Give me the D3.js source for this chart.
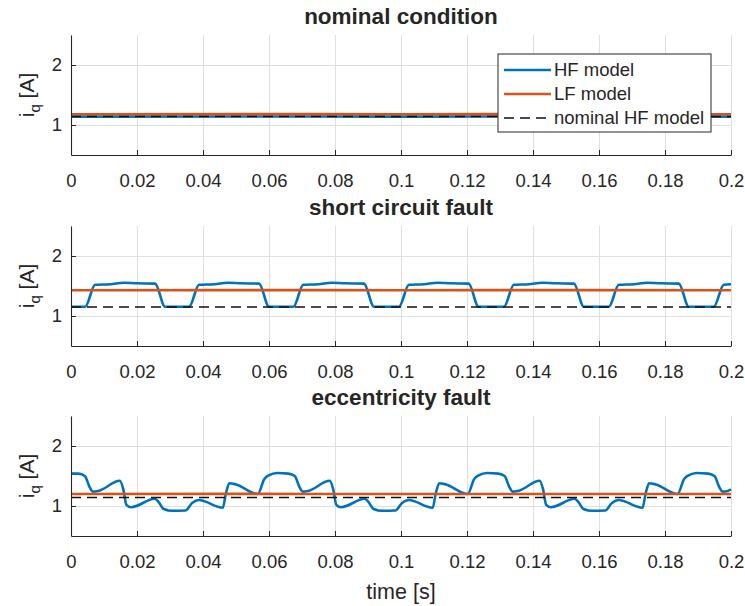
<!DOCTYPE html>
<html>
<head>
<meta charset="utf-8">
<script src="https://cdn.jsdelivr.net/npm/d3@7"></script>
<style>
  body { margin: 0; background: #fff; }
  text { font-family: "Liberation Sans", Arial, sans-serif; fill: #262626; }
</style>
</head>
<body>
<div id="my_dataviz"></div>
<script>
// time axis ticks
var timeTicks = [0, 0.02, 0.04, 0.06, 0.08, 0.1, 0.12, 0.14, 0.16, 0.18, 0.2];
var timeLabels = ["0", "0.02", "0.04", "0.06", "0.08", "0.1", "0.12", "0.14", "0.16", "0.18", "0.2"];
var currentTicks = [1, 2];

// nominal condition [t, iq]
var nominalHF = [[0, 1.14], [0.05, 1.142], [0.1, 1.14], [0.15, 1.141], [0.2, 1.14]];
var nominalLF = [[0, 1.18], [0.05, 1.182], [0.1, 1.18], [0.15, 1.181], [0.2, 1.18]];
var nominalRef = [[0, 1.14], [0.2, 1.14]];

// short circuit fault
var shortHF = [
  [0, 1.155], [0.0043, 1.155], [0.0073, 1.52], [0.012, 1.53], [0.016, 1.555], [0.02, 1.545], [0.0255, 1.54],
  [0.0285, 1.155], [0.0358, 1.155], [0.0388, 1.52], [0.0435, 1.53], [0.0475, 1.555], [0.0515, 1.545], [0.057, 1.54],
  [0.06, 1.155], [0.0674, 1.155], [0.0704, 1.52], [0.075, 1.53], [0.079, 1.555], [0.083, 1.545], [0.0888, 1.54],
  [0.0918, 1.155], [0.0994, 1.155], [0.1024, 1.52], [0.107, 1.53], [0.111, 1.555], [0.115, 1.545], [0.1205, 1.54],
  [0.1235, 1.155], [0.1312, 1.155], [0.1342, 1.52], [0.1388, 1.53], [0.1428, 1.555], [0.1468, 1.545], [0.1524, 1.54],
  [0.1554, 1.155], [0.163, 1.155], [0.166, 1.52], [0.1706, 1.53], [0.1746, 1.555], [0.1786, 1.545], [0.1842, 1.54],
  [0.1872, 1.155], [0.1948, 1.155], [0.1978, 1.52], [0.2, 1.53]
];
var shortLF = [[0, 1.43], [0.05, 1.432], [0.1, 1.43], [0.15, 1.431], [0.2, 1.43]];
var shortRef = [[0, 1.15], [0.2, 1.15]];

// eccentricity fault
var eccHF = [
  [0, 1.54], [0.0023, 1.54], [0.0042, 1.5], [0.0056, 1.32], [0.0066, 1.24], [0.0082, 1.25], [0.0148, 1.42],
  [0.0158, 1.29], [0.0168, 1.02], [0.0182, 0.98], [0.0254, 1.12], [0.0265, 1.07], [0.0281, 0.95], [0.0307, 0.92],
  [0.0347, 0.925], [0.0367, 1.05], [0.0387, 1.1], [0.046, 0.97], [0.0469, 1.2], [0.048, 1.38], [0.05, 1.36],
  [0.0566, 1.2], [0.0586, 1.45], [0.0599, 1.51], [0.0625, 1.55], [0.0659, 1.54], [0.0678, 1.5], [0.0692, 1.32],
  [0.0702, 1.24], [0.0718, 1.25], [0.0784, 1.42], [0.0794, 1.29], [0.0804, 1.02], [0.0818, 0.98], [0.089, 1.12],
  [0.0901, 1.07], [0.0917, 0.95], [0.0943, 0.92], [0.0983, 0.925], [0.1003, 1.05], [0.1023, 1.1], [0.1096, 0.97],
  [0.1105, 1.2], [0.1116, 1.38], [0.1136, 1.36], [0.1202, 1.2], [0.1222, 1.45], [0.1235, 1.51], [0.1261, 1.55],
  [0.1295, 1.54], [0.1314, 1.5], [0.1328, 1.32], [0.1338, 1.24], [0.1354, 1.25], [0.142, 1.42], [0.143, 1.29],
  [0.144, 1.02], [0.1454, 0.98], [0.1526, 1.12], [0.1537, 1.07], [0.1553, 0.95], [0.1579, 0.92], [0.1619, 0.925],
  [0.1639, 1.05], [0.1659, 1.1], [0.1732, 0.97], [0.1741, 1.2], [0.1752, 1.38], [0.1772, 1.36], [0.1838, 1.2],
  [0.1858, 1.45], [0.1871, 1.51], [0.1897, 1.55], [0.1931, 1.54], [0.195, 1.5], [0.1964, 1.32], [0.1974, 1.24],
  [0.199, 1.25], [0.2, 1.28]
];
var eccLF = [[0, 1.2], [0.05, 1.202], [0.1, 1.2], [0.15, 1.201], [0.2, 1.2]];
var eccRef = [[0, 1.14], [0.2, 1.14]];

var seriesNames = ["HF model", "LF model", "nominal HF model"];

var blue = "#0072BD", orange = "#D95319", axisColor = "#262626", gridColor = "#dfdfdf";

var panels = [
  {title: "nominal condition", hf: nominalHF, lf: nominalLF, ref: nominalRef, top: 35},
  {title: "short circuit fault", hf: shortHF, lf: shortLF, ref: shortRef, top: 226},
  {title: "eccentricity fault", hf: eccHF, lf: eccLF, ref: eccRef, top: 416}
];

var left = 71, right = 731, panelHeight = 120;

var svg = d3.select("#my_dataviz")
  .append("svg")
    .attr("width", 745)
    .attr("height", 606);

var x = d3.scaleLinear().domain([0, 0.2]).range([left, right]);

panels.forEach(function(p, i) {
  var y = d3.scaleLinear().domain([0.5, 2.5]).range([p.top + panelHeight, p.top]);
  var g = svg.append("g");

  // grid
  g.append("g")
    .attr("transform", "translate(0," + (p.top + panelHeight) + ")")
    .call(d3.axisBottom(x).tickValues(timeTicks).tickSize(-panelHeight).tickFormat(""))
    .call(function(s) { s.select(".domain").remove(); })
    .selectAll("line").attr("stroke", gridColor);
  g.append("g")
    .attr("transform", "translate(" + left + ",0)")
    .call(d3.axisLeft(y).tickValues(currentTicks).tickSize(-(right - left)).tickFormat(""))
    .call(function(s) { s.select(".domain").remove(); })
    .selectAll("line").attr("stroke", gridColor);

  var line = d3.line()
    .x(function(d) { return x(d[0]); })
    .y(function(d) { return y(d[1]); })
    .curve(d3.curveMonotoneX);

  g.append("path").datum(p.hf)
    .attr("d", line).attr("fill", "none")
    .attr("stroke", blue).attr("stroke-width", 2.6);
  g.append("path").datum(p.lf)
    .attr("d", line).attr("fill", "none")
    .attr("stroke", orange).attr("stroke-width", 2.6);
  g.append("path").datum(p.ref)
    .attr("d", line).attr("fill", "none")
    .attr("stroke", "#111").attr("stroke-width", 1.5)
    .attr("stroke-dasharray", "10,6");

  // axes, ticks pointing inwards
  var xa = g.append("g")
    .attr("transform", "translate(0," + (p.top + panelHeight) + ")")
    .call(d3.axisBottom(x).tickValues(timeTicks).tickSize(-5).tickSizeOuter(0).tickPadding(19)
      .tickFormat(function(d, j) { return timeLabels[j]; }));
  var ya = g.append("g")
    .attr("transform", "translate(" + left + ",0)")
    .call(d3.axisLeft(y).tickValues(currentTicks).tickSize(-5).tickSizeOuter(0).tickPadding(9)
      .tickFormat(d3.format("d")));
  [xa, ya].forEach(function(a) {
    a.select(".domain").attr("stroke", axisColor).attr("stroke-width", 1.1);
    a.selectAll(".tick line").attr("stroke", axisColor);
    a.selectAll("text").style("font-size", "18.5px").attr("fill", axisColor)
      .style("font-family", "'Liberation Sans', Arial, sans-serif");
  });

  // title
  g.append("text")
    .attr("x", (left + right) / 2)
    .attr("y", p.top - 11)
    .attr("text-anchor", "middle")
    .style("font-size", "22.5px")
    .style("font-weight", "bold")
    .attr("fill", "#000")
    .text(p.title);

  // y label i_q [A]
  var yl = g.append("text")
    .attr("transform", "translate(34," + (p.top + panelHeight / 2) + ") rotate(-90)")
    .attr("text-anchor", "middle")
    .style("font-size", "21px");
  yl.append("tspan").text("i");
  yl.append("tspan").attr("dy", 6).style("font-size", "15px").text("q");
  yl.append("tspan").attr("dy", -6).text(" [A]");

  // legend in the first panel only
  if (i === 0) {
    var lg = g.append("g").attr("transform", "translate(498,54)");
    lg.append("rect")
      .attr("width", 213).attr("height", 78)
      .attr("fill", "#fff").attr("stroke", axisColor).attr("stroke-width", 1);
    var styles = [
      {c: blue, w: 2.6, dash: null},
      {c: orange, w: 2.6, dash: null},
      {c: "#111", w: 1.5, dash: "10,6"}
    ];
    seriesNames.forEach(function(name, k) {
      var yy = 16 + k * 24;
      lg.append("line")
        .attr("x1", 6).attr("x2", 53).attr("y1", yy).attr("y2", yy)
        .attr("stroke", styles[k].c).attr("stroke-width", styles[k].w)
        .attr("stroke-dasharray", styles[k].dash);
      lg.append("text")
        .attr("x", 56).attr("y", yy + 6)
        .style("font-size", "18.5px")
        .text(name);
    });
  }
});

// x label
svg.append("text")
  .attr("x", (left + right) / 2)
  .attr("y", 599)
  .attr("text-anchor", "middle")
  .style("font-size", "21.5px")
  .text("time [s]");
</script>
</body>
</html>
